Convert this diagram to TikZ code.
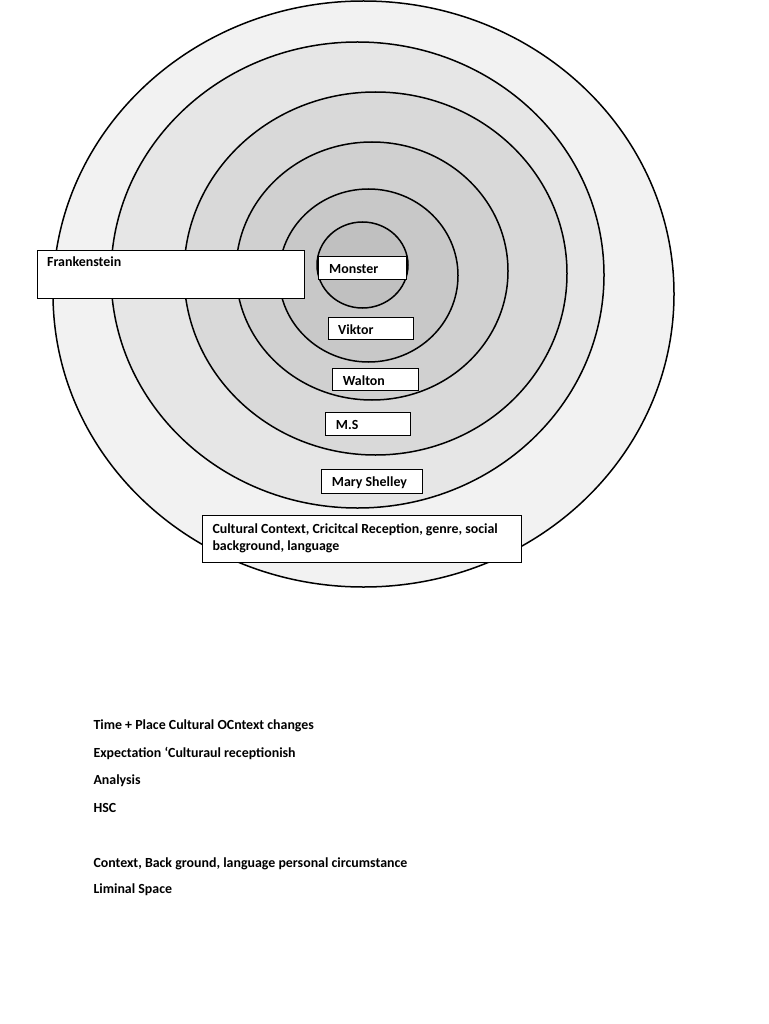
\documentclass[tikz,border=0pt]{standalone}
\usepackage{fontspec}
\setmainfont{Carlito}
\definecolor{ringA}{HTML}{F2F2F2}
\definecolor{ringB}{HTML}{E6E6E6}
\definecolor{ringC}{HTML}{D9D9D9}
\definecolor{ringD}{HTML}{D0D0D0}
\definecolor{ringE}{HTML}{C8C8C8}
\definecolor{ringF}{HTML}{C0C0C0}
\tikzset{
  ring/.style={draw=black, line width=1.5pt},
  labelbox/.style={draw=black, fill=white, line width=1pt, anchor=north west, inner sep=0pt},
  txt/.style={anchor=base west, inner sep=0pt, font=\fontsize{13.9pt}{16.7pt}\selectfont\bfseries},
}
\begin{document}
\begin{tikzpicture}[x=1pt, y=-1pt]
\useasboundingbox (0,0) rectangle (768,1024);
\fill[white] (0,0) rectangle (768,1024);
% rings
\filldraw[ring, fill=ringA] (363.5,294) ellipse [x radius=310.5, y radius=293];
\filldraw[ring, fill=ringB] (357.5,275) ellipse [x radius=246.5, y radius=233];
\filldraw[ring, fill=ringC] (375.5,273.5) ellipse [x radius=191.5, y radius=181.5];
\filldraw[ring, fill=ringD] (372,271) ellipse [x radius=136, y radius=129];
\filldraw[ring, fill=ringE] (368.5,275.5) ellipse [x radius=89.5, y radius=86.5];
\filldraw[ring, fill=ringF] (362.5,265) ellipse [x radius=45.5, y radius=43];
% boxes
\node[labelbox, minimum width=267pt, minimum height=48pt] (frank) at (37,249.5) {};
\node[txt] (frankt) at (47,266) {Frankenstein};
\node[labelbox, minimum width=88pt, minimum height=23pt] (monster) at (318,256) {};
\node[txt] (monstert) at (329,273) {Monster};
\node[labelbox, minimum width=85pt, minimum height=22pt] (viktor) at (328.3,317.3) {};
\node[txt] (viktort) at (338,334) {Viktor};
\node[labelbox, minimum width=85.4pt, minimum height=22.6pt] (walton) at (332.3,367.7) {};
\node[txt] (waltont) at (342.7,385.5) {Walton};
\node[labelbox, minimum width=85.3pt, minimum height=23pt] (ms) at (325,412.3) {};
\node[txt] (mst) at (335.7,429) {M.S};
\node[labelbox, minimum width=101.3pt, minimum height=24pt] (mary) at (321,469.3) {};
\node[txt] (maryt) at (331.7,486.7) {Mary Shelley};
\node[labelbox, minimum width=318.4pt, minimum height=46.7pt] (cult) at (202.3,515) {};
\node[txt] (cult1) at (212.3,533.3) {Cultural Context, Cricitcal Reception, genre, social};
\node[txt] (cult2) at (212.3,550) {background, language};
% notes
\node[txt] (n1) at (93.3,729) {Time + Place Cultural OCntext changes};
\node[txt] (n2) at (93.3,757) {Expectation ‘Culturaul receptionish};
\node[txt] (n3) at (93.3,784) {Analysis};
\node[txt] (n4) at (93.3,812) {HSC};
\node[txt] (n5) at (93.3,867) {Context, Back ground, language personal circumstance};
\node[txt] (n6) at (93.3,893) {Liminal Space};
\end{tikzpicture}
\end{document}
